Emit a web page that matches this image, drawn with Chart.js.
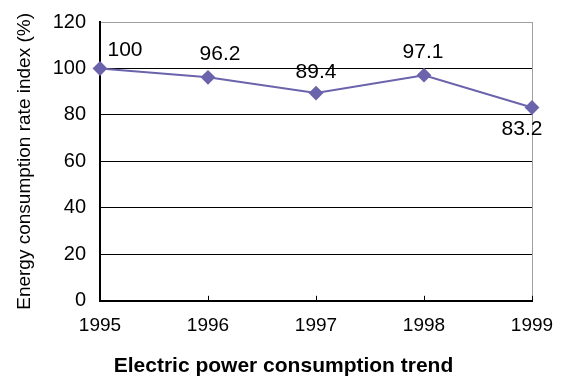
<!DOCTYPE html>
<html>
<head>
<meta charset="utf-8">
<script src="https://cdn.jsdelivr.net/npm/chart.js@4/dist/chart.umd.min.js"></script>
<style>
  html, body { margin: 0; padding: 0; background: #fff; }
  #wrap { width: 563px; height: 379px; }
</style>
</head>
<body>
<div id="wrap"><canvas id="grafico" width="563" height="379"></canvas></div>
<script>
// dados
const anos = ["1995", "1996", "1997", "1998", "1999"];
const indice = [100, 96.2, 89.4, 97.1, 83.2];
const rotulos = ["100", "96.2", "89.4", "97.1", "83.2"];
const yTicks = [0, 20, 40, 60, 80, 100, 120];
const titulo = "Electric power consumption trend";

// deslocamento dos rotulos (px)
const deslocRotulos = [[25, -18], [12, -23], [0, -21], [-1, -23], [-10, 22]];

const corLinha = "#6B63AB";
const fonte = "'Liberation Sans', Arial, sans-serif";

const rotulosPlugin = {
    id: "rotulos",
    afterDatasetsDraw(chart) {
        const ctx = chart.ctx;
        const meta = chart.getDatasetMeta(0);
        ctx.save();
        ctx.font = "21px " + fonte;
        ctx.fillStyle = "#000";
        ctx.textAlign = "center";
        ctx.textBaseline = "middle";
        meta.data.forEach((pt, i) => {
            ctx.fillText(rotulos[i], pt.x + deslocRotulos[i][0], pt.y + deslocRotulos[i][1]);
        });
        // marcas do eixo x (para dentro)
        const x = chart.scales.x;
        const base = chart.chartArea.bottom;
        ctx.strokeStyle = "#000";
        ctx.lineWidth = 1;
        anos.forEach((a, i) => {
            const px = Math.round(x.getPixelForValue(i)) + 0.5;
            ctx.beginPath();
            ctx.moveTo(px, base);
            ctx.lineTo(px, base - 5);
            ctx.stroke();
        });
        // titulo centrado na largura toda
        const t = chart.titleBlock;
        ctx.font = "bold 21px " + fonte;
        ctx.fillText(titulo, chart.width / 2 + 2, t.top + t.height - 12.6);
        ctx.restore();
    }
};

new Chart(document.getElementById("grafico"), {
    type: "line",
    data: {
        labels: anos,
        datasets: [{
            data: indice,
            borderColor: corLinha,
            backgroundColor: corLinha,
            borderWidth: 2,
            pointStyle: "rectRot",
            pointRadius: 6,
            pointHoverRadius: 6,
            tension: 0
        }]
    },
    options: {
        responsive: false,
        animation: false,
        events: [],
        layout: { padding: { left: 0, right: 31, top: 22, bottom: 0 } },
        plugins: {
            legend: { display: false },
            tooltip: { enabled: false },
            title: {
                display: true,
                position: "bottom",
                text: titulo,
                color: "rgba(0,0,0,0)",
                font: { family: fonte, size: 21, weight: "bold", lineHeight: 1.2 },
                padding: { top: 13, bottom: 0 }
            }
        },
        scales: {
            x: {
                offset: false,
                grid: {
                    drawTicks: false,
                    color: (c) => c.index === anos.length - 1 ? "#a0a0a0" : "rgba(0,0,0,0)",
                    lineWidth: 1
                },
                border: { display: true, color: "#000", width: 2 },
                ticks: {
                    color: "#000",
                    padding: 14,
                    maxRotation: 0,
                    font: { family: fonte, size: 19 }
                },
                afterFit: (s) => { s.height = 40; s.paddingLeft = 0; s.paddingRight = 0; }
            },
            y: {
                min: 0,
                max: 120,
                afterBuildTicks: (s) => { s.ticks = yTicks.map(v => ({ value: v })); },
                grid: {
                    drawTicks: false,
                    color: (c) => c.tick && c.tick.value === 120 ? "#a0a0a0" : (c.tick && c.tick.value === 0 ? "rgba(0,0,0,0)" : "#000"),
                    lineWidth: 1
                },
                border: { display: true, color: "#000", width: 2 },
                ticks: {
                    color: "#000",
                    padding: 14,
                    font: { family: fonte, size: 20 }
                },
                title: {
                    display: true,
                    text: "Energy consumption rate index (%)",
                    color: "#000",
                    font: { family: fonte, size: 19, lineHeight: 1.2 },
                    padding: { top: 13, bottom: 4 }
                },
                afterFit: (s) => { s.width = 100; s.paddingTop = 0; s.paddingBottom = 0; }
            }
        }
    },
    plugins: [rotulosPlugin]
});
</script>
</body>
</html>
